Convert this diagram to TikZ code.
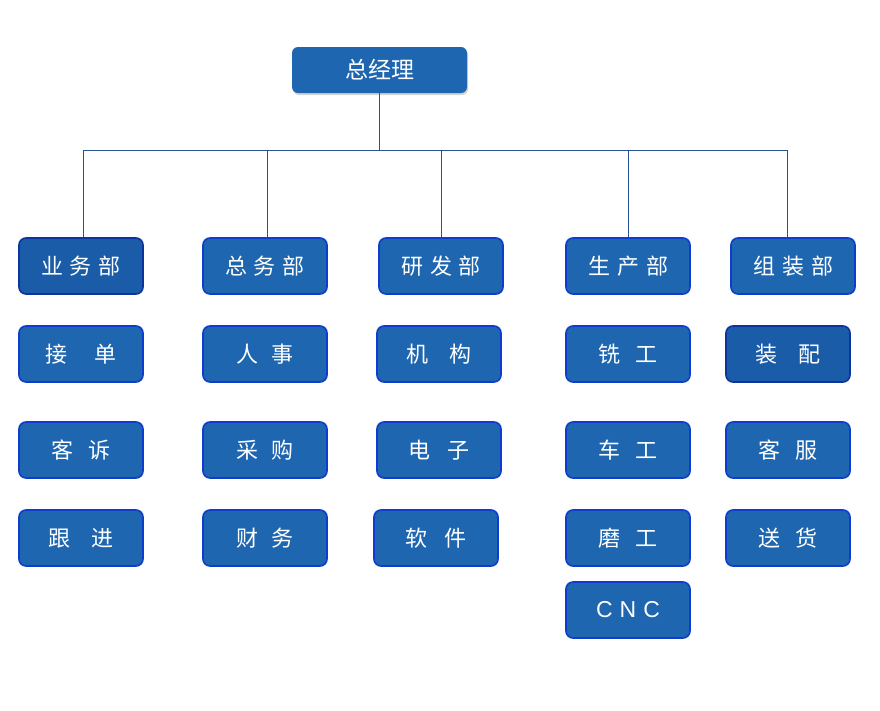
\documentclass[tikz,border=0pt]{standalone}
\usepackage{fontspec}
\setmainfont{Liberation Sans}
\newfontfamily\cjk{Noto Sans CJK SC}
\usepackage{tikz}
\usetikzlibrary{positioning, shadows}
\usepackage{xcolor}
\definecolor{boxblue}{RGB}{30,102,176}
\definecolor{boxedge}{RGB}{14,60,205}
\definecolor{darkfill}{RGB}{26,92,168}
\definecolor{darkedge}{RGB}{12,52,160}
\definecolor{linkblue}{RGB}{40,82,150}

\begin{document}
\begin{tikzpicture}[x=1pt, y=-1pt,
  unit/.style={draw=boxedge, line width=1.6pt, fill=boxblue, rounded corners=7pt,
    minimum width=124pt, minimum height=56pt, text=white, inner sep=0pt,
    font=\cjk\fontsize{22}{26}\selectfont},
  dark/.style={unit, draw=darkedge, fill=darkfill},
  boss/.style={fill=boxblue, rounded corners=6pt, minimum width=175pt, minimum height=46pt,
    text=white, inner sep=0pt, font=\cjk\fontsize{23}{27}\selectfont,
    drop shadow={shadow xshift=1pt, shadow yshift=-2pt, opacity=0.35}},
  link/.style={draw=linkblue, line width=0.8pt}]
\useasboundingbox (0,0) rectangle (880,710);

% top
\node[boss] (gm) at (379.5, 70) {总经理};
\coordinate (bus) at (379.5, 150);

% departments
\node[dark] (ywb) at (81, 266) {业\hspace{7pt}务\hspace{7pt}部};
\node[unit] (zwb) at (265, 266) {总\hspace{7pt}务\hspace{7pt}部};
\node[unit] (yfb) at (441, 266) {研\hspace{7pt}发\hspace{7pt}部};
\node[unit] (scb) at (628, 266) {生\hspace{7pt}产\hspace{7pt}部};
\node[unit] (zzb) at (793, 266) {组\hspace{7pt}装\hspace{7pt}部};

\draw[link] (gm.south) -- (bus);
\draw[link] (bus) -| ([xshift=2pt]ywb.north);
\draw[link] (bus) -| ([xshift=2pt]zwb.north);
\draw[link] (bus) -- (yfb.north |- bus) -- (yfb.north);
\draw[link] (bus) -| (scb.north);
\draw[link] (bus) -| ([xshift=-6pt]zzb.north);

% 业务部
\node[unit] (jd) at (81, 354) {接\hspace{28pt}单};
\node[unit] (ks) at (81, 450) {客\hspace{15pt}诉};
\node[unit] (gj) at (81, 538) {跟\hspace{21pt}进};

% 总务部
\node[unit] (rs) at (265, 354) {人\hspace{13pt}事};
\node[unit] (cg) at (265, 450) {采\hspace{14pt}购};
\node[unit] (cw) at (265, 538) {财\hspace{14pt}务};

% 研发部
\node[unit] (jg) at (439, 354) {机\hspace{21pt}构};
\node[unit] (dz) at (439, 450) {电\hspace{17pt}子};
\node[unit] (rj) at (436, 538) {软\hspace{17pt}件};

% 生产部
\node[unit] (xg) at (628, 354) {铣\hspace{15pt}工};
\node[unit] (cgg) at (628, 450) {车\hspace{15pt}工};
\node[unit] (mg) at (628, 538) {磨\hspace{15pt}工};
\node[unit, font=\fontsize{23}{26}\selectfont] (cnc) at (628, 610) {C\hspace{7pt}N\hspace{7pt}C};

% 组装部
\node[dark] (zp) at (788, 354) {装\hspace{21pt}配};
\node[unit] (kf) at (788, 450) {客\hspace{15pt}服};
\node[unit] (sh) at (788, 538) {送\hspace{15pt}货};
\end{tikzpicture}
\end{document}
